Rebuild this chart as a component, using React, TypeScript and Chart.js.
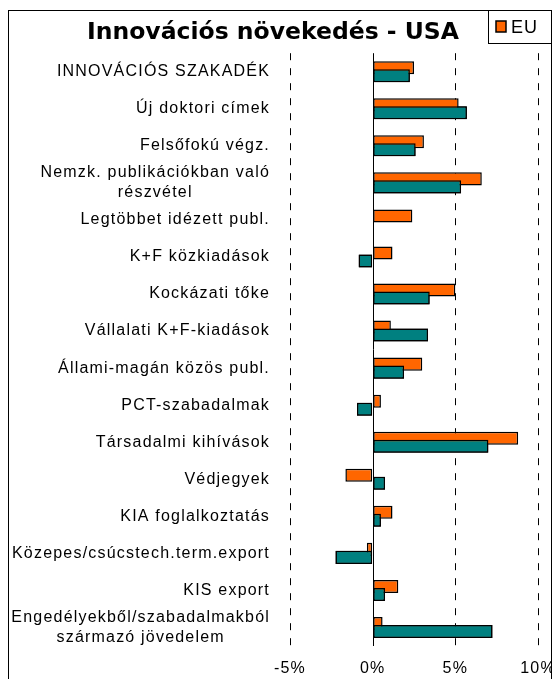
import { useEffect, useRef } from 'react';
import { Chart, registerables } from 'chart.js';

Chart.register(...registerables);

const chartTitle = 'Innovációs növekedés - USA';

const categories: string[][] = [
  ['INNOVÁCIÓS SZAKADÉK'],
  ['Új doktori címek'],
  ['Felsőfokú végz.'],
  ['Nemzk. publikációkban való', 'részvétel'],
  ['Legtöbbet idézett publ.'],
  ['K+F közkiadások'],
  ['Kockázati tőke'],
  ['Vállalati K+F-kiadások'],
  ['Állami-magán közös publ.'],
  ['PCT-szabadalmak'],
  ['Társadalmi kihívások'],
  ['Védjegyek'],
  ['KIA foglalkoztatás'],
  ['Közepes/csúcstech.term.export'],
  ['KIS export'],
  ['Engedélyekből/szabadalmakból', 'származó jövedelem'],
];

const euValues: (number | null)[] = [2.5, 5.2, 3.1, 6.6, 2.4, 1.2, 5.0, 1.1, 3.0, 0.5, 8.8, -1.65, 1.2, -0.35, 1.55, 0.6];
const usaValues: (number | null)[] = [2.25, 5.7, 2.6, 5.35, null, -0.85, 3.45, 3.35, 1.9, -0.95, 7.0, 0.75, 0.5, -2.25, 0.75, 7.25];

const xTickValues = [-5, 0, 5, 10];

const LABEL_FONT = '16px "Liberation Sans", Arial, sans-serif';
const LABEL_SPACING = '1.2px';
const LABEL_LINE_H = 20;

const customPlugin = {
  id: 'customDecor',
  afterDatasetsDraw(chart: any) {
    // USA bars drawn above the EU bars, as in the original
    const meta = chart.getDatasetMeta(1);
    if (meta && meta.controller) meta.controller.draw();
  },
  afterDraw(chart: any) {
    const ctx = chart.ctx;
    ctx.save();
    // zero (category axis) line
    const x = chart.scales.x;
    const area = chart.chartArea;
    const px = Math.round(x.getPixelForValue(0)) + 0.5;
    ctx.strokeStyle = '#000';
    ctx.lineWidth = 1;
    ctx.setLineDash([]);
    ctx.beginPath();
    ctx.moveTo(px, area.top);
    ctx.lineTo(px, area.bottom);
    ctx.stroke();

    // outer frame
    ctx.strokeRect(0.5, 0.5, chart.width - 1, chart.height + 20);

    // category labels
    ctx.font = LABEL_FONT;
    (ctx as any).letterSpacing = LABEL_SPACING;
    ctx.fillStyle = '#000';
    ctx.textBaseline = 'middle';
    ctx.textAlign = 'left';
    const y = chart.scales.y;
    const right = y.right - 20;
    categories.forEach((lines, i) => {
      const cy = y.getPixelForValue(i);
      const widths = lines.map((l) => ctx.measureText(l).width);
      const bw = Math.max(...widths);
      lines.forEach((l, j) => {
        const ly = cy + (j - (lines.length - 1) / 2) * LABEL_LINE_H;
        ctx.fillText(l, right - bw + (bw - widths[j]) / 2, ly);
      });
    });

    // x tick labels
    ctx.textAlign = 'center';
    x.ticks.forEach((t: any) => {
      ctx.fillText(String(t.label), x.getPixelForValue(t.value), area.bottom + 23);
    });

    // legend (EU only, as visible in the original)
    const ds = chart.data.datasets[0];
    const lx = chart.width - 64;
    ctx.lineWidth = 1;
    ctx.strokeStyle = '#000';
    ctx.fillStyle = '#fff';
    ctx.fillRect(lx + 0.5, 0.5, 63, 33);
    ctx.strokeRect(lx + 0.5, 0.5, 63, 33);
    ctx.fillStyle = ds.backgroundColor as string;
    ctx.fillRect(lx + 8, 11, 10, 11);
    ctx.lineWidth = 1.5;
    ctx.strokeRect(lx + 8, 11, 10, 11);
    ctx.fillStyle = '#000';
    ctx.font = '18px "Liberation Sans", Arial, sans-serif';
    (ctx as any).letterSpacing = '1px';
    ctx.textAlign = 'left';
    ctx.fillText(String(ds.label), lx + 23, 18);
    ctx.restore();
  },
};

export default function App() {
  const canvasRef = useRef<HTMLCanvasElement | null>(null);

  useEffect(() => {
    const canvas = canvasRef.current;
    if (!canvas) return;
    const chart = new Chart(canvas, {
      type: 'bar',
      data: {
        labels: categories.map((c) => c.join(' ')),
        datasets: [
          {
            label: 'EU',
            data: euValues,
            backgroundColor: '#FF6600',
            borderColor: '#000',
            borderWidth: 1.5,
            borderSkipped: false,
            categoryPercentage: 0.432,
            barPercentage: 1.625,
          },
          {
            label: 'USA',
            data: usaValues,
            backgroundColor: '#008080',
            borderColor: '#000',
            borderWidth: 1.5,
            borderSkipped: false,
            categoryPercentage: 0.432,
            barPercentage: 1.625,
          },
        ],
      },
      options: {
        indexAxis: 'y',
        responsive: false,
        maintainAspectRatio: false,
        animation: false,
        layout: { padding: { left: 0, right: 14, top: 0, bottom: 33 } },
        plugins: {
          legend: { display: false },
          tooltip: { enabled: false },
          title: {
            display: true,
            text: chartTitle,
            color: '#000',
            font: { family: '"DejaVu Sans", Verdana, sans-serif', size: 23.5, weight: 'bold' },
            padding: { top: 9, bottom: 6 },
          },
        },
        scales: {
          x: {
            type: 'linear',
            min: xTickValues[0],
            max: xTickValues[xTickValues.length - 1],
            afterBuildTicks: (scale: any) => {
              scale.ticks = xTickValues.map((v) => ({ value: v }));
            },
            ticks: { display: false, callback: (v: any) => v + '%' },
            grid: {
              display: true,
              drawTicks: false,
              color: (c: any) => (c.tick && c.tick.value === 0 ? 'rgba(0,0,0,0)' : '#000'),
              lineWidth: 1,
            },
            border: { display: false, dash: [7, 8] },
          },
          y: {
            type: 'category',
            ticks: { display: false },
            grid: { display: false },
            border: { display: false },
            afterFit: (scale: any) => {
              scale.width = 282;
            },
          },
        },
      },
      plugins: [customPlugin],
    });
    return () => chart.destroy();
  }, []);

  return (
    <div style={{ position: 'fixed', left: 8, top: 10, width: 544, height: 669 }}>
      <canvas ref={canvasRef} width={544} height={669} style={{ display: 'block' }} />
    </div>
  );
}
